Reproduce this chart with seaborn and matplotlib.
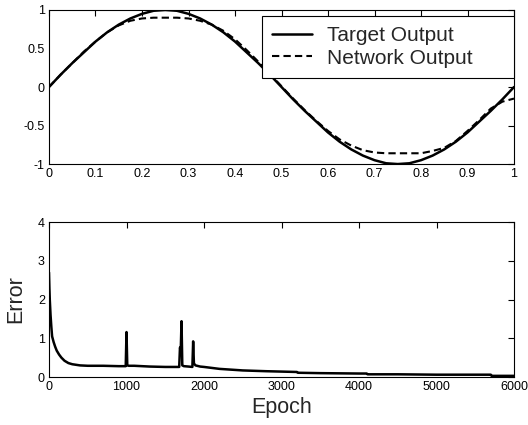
"""
plot.py - target vs network output (top) and training error curve (bottom)
"""

import matplotlib
matplotlib.use("Agg")
import matplotlib.pyplot as plt
import seaborn as sns
import pandas as pd

# ---------------------------------------------------------------------------
# Data
# ---------------------------------------------------------------------------

x_input = [0.0, 0.025, 0.05, 0.075, 0.1, 0.125, 0.15, 0.175, 0.2, 0.225,
           0.25, 0.275, 0.3, 0.325, 0.35, 0.375, 0.4, 0.425, 0.45, 0.475,
           0.5, 0.525, 0.55, 0.575, 0.6, 0.625, 0.65, 0.675, 0.7, 0.725,
           0.75, 0.775, 0.8, 0.825, 0.85, 0.875, 0.9, 0.925, 0.95, 0.975, 1.0]

target_output = [0.0, 0.16, 0.31, 0.45, 0.59, 0.71, 0.81, 0.89, 0.95, 0.99,
                 1.0, 0.99, 0.95, 0.89, 0.81, 0.71, 0.59, 0.45, 0.31, 0.16,
                 0.0, -0.16, -0.31, -0.45, -0.59, -0.71, -0.81, -0.89, -0.95, -0.99,
                 -1.0, -0.99, -0.95, -0.89, -0.81, -0.71, -0.59, -0.45, -0.31, -0.16, 0.0]

network_output = [0.0, 0.16, 0.31, 0.46, 0.59, 0.71, 0.80, 0.86, 0.89, 0.90,
                  0.90, 0.90, 0.89, 0.86, 0.81, 0.73, 0.62, 0.48, 0.33, 0.17,
                  0.01, -0.15, -0.30, -0.44, -0.57, -0.68, -0.76, -0.82, -0.85, -0.86,
                  -0.86, -0.86, -0.86, -0.83, -0.79, -0.70, -0.57, -0.43, -0.28, -0.19, -0.15]

epochs = [0, 5, 10, 20, 30, 40, 60, 80, 100, 130, 160, 200, 250, 300, 400,
          500, 700, 900, 990, 1000, 1010, 1030, 1100, 1300, 1500, 1680, 1690,
          1700, 1710, 1720, 1740, 1800, 1850, 1860, 1870, 1890, 1950, 2000,
          2200, 2500, 2800, 3000, 3200, 3210, 3500, 4000, 4100, 4110, 4500,
          5000, 5700, 5710, 6000]

error = [2.7, 2.3, 2.0, 1.6, 1.3, 1.05, 0.9, 0.78, 0.68, 0.58, 0.5, 0.42, 0.36,
         0.33, 0.30, 0.29, 0.29, 0.28, 0.28, 1.16, 0.30, 0.29, 0.29, 0.27, 0.26,
         0.26, 0.76, 0.70, 1.44, 0.30, 0.28, 0.27, 0.26, 0.92, 0.35, 0.30, 0.27,
         0.26, 0.21, 0.17, 0.15, 0.14, 0.13, 0.11, 0.10, 0.09, 0.09, 0.07, 0.07,
         0.06, 0.06, 0.03, 0.03]

top_xticks = [0, 0.1, 0.2, 0.3, 0.4, 0.5, 0.6, 0.7, 0.8, 0.9, 1]
top_xticklabels = ["0", "0.1", "0.2", "0.3", "0.4", "0.5", "0.6", "0.7", "0.8", "0.9", "1"]
top_yticks = [-1, -0.5, 0, 0.5, 1]
top_yticklabels = ["-1", "-0.5", "0", "0.5", "1"]
bot_xticks = [0, 1000, 2000, 3000, 4000, 5000, 6000]
bot_yticks = [0, 1, 2, 3, 4]

# ---------------------------------------------------------------------------
# Style
# ---------------------------------------------------------------------------

sns.set_style("white")
plt.rcParams["font.family"] = ["Liberation Sans", "DejaVu Sans"]
plt.rcParams.update({
    "xtick.major.size": 4,
    "ytick.major.size": 4,
    "xtick.major.width": 0.8,
    "ytick.major.width": 0.8,
    "axes.edgecolor": "black",
    "axes.linewidth": 0.8,
})


def style_axes(ax):
    for s in ax.spines.values():
        s.set_visible(True)
        s.set_color("black")
    ax.tick_params(axis="both", labelsize=9, pad=3, colors="black",
                   top=True, right=True, direction="in")


fig = plt.figure(figsize=(5.28, 4.25), dpi=100)
ax_top = fig.add_axes([0.0928, 0.614, 0.8807, 0.3625])
ax_bot = fig.add_axes([0.0928, 0.1129, 0.8807, 0.3647])

# ---- Top: target vs network output ---------------------------------------
df_out = pd.DataFrame({"x": x_input, "Target Output": target_output,
                       "Network Output": network_output})
sns.lineplot(data=df_out, x="x", y="Target Output", ax=ax_top, color="black",
             linewidth=1.8, label="Target Output")
sns.lineplot(data=df_out, x="x", y="Network Output", ax=ax_top, color="black",
             linewidth=1.5, linestyle=(0, (3.5, 2)), label="Network Output")
ax_top.set_xlim(0, 1)
ax_top.set_ylim(-1, 1)
ax_top.set_xticks(top_xticks)
ax_top.set_xticklabels(top_xticklabels)
ax_top.set_yticks(top_yticks)
ax_top.set_yticklabels(top_yticklabels)
ax_top.set_xlabel("")
ax_top.set_ylabel("")
style_axes(ax_top)
# legend box spans from x=0.458 to the right spine, text left-aligned
leg = ax_top.legend(loc="upper left", bbox_to_anchor=(0.458, 0.2, 0.542, 0.761),
                    mode="expand", borderaxespad=0, fancybox=False, framealpha=1,
                    edgecolor="black", fontsize=15, handlelength=1.9,
                    borderpad=0.5, labelspacing=0.15, handletextpad=0.7)
leg.get_frame().set_linewidth(0.8)

# ---- Bottom: error vs epoch ----------------------------------------------
df_err = pd.DataFrame({"Epoch": epochs, "Error": error})
sns.lineplot(data=df_err, x="Epoch", y="Error", ax=ax_bot, color="black",
             linewidth=1.8)
ax_bot.set_xlim(0, 6000)
ax_bot.set_ylim(0, 4)
ax_bot.set_xticks(bot_xticks)
ax_bot.set_yticks(bot_yticks)
ax_bot.set_xlabel("Epoch", fontsize=15.5, labelpad=3)
ax_bot.set_ylabel("Error", fontsize=15.5, labelpad=8)
style_axes(ax_bot)

fig.savefig("out.png", dpi=100)
plt.close(fig)
